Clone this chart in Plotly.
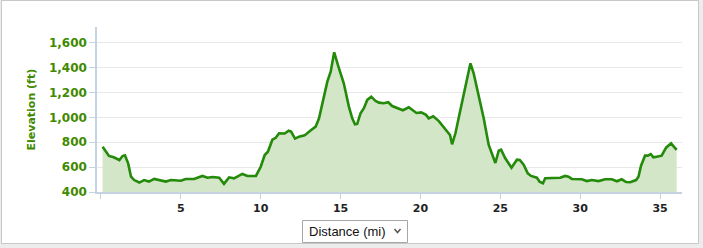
import plotly.graph_objects as go

# ---- data ----
distance_mi = [0.1, 0.3, 0.5, 0.8, 1.15, 1.35, 1.5, 1.7, 1.88, 2.08, 2.4, 2.7, 3.0, 3.33, 3.75,
               4.06, 4.38, 4.7, 5.0, 5.3, 5.83, 6.35, 6.67, 6.98, 7.4, 7.7, 8.02, 8.33, 8.85,
               9.17, 9.7, 10.0, 10.25, 10.45, 10.73, 10.94, 11.15, 11.5, 11.75, 11.9, 12.15,
               12.4, 12.75, 13.1, 13.44, 13.65, 13.85, 14.0, 14.17, 14.38, 14.6, 14.83, 15.2,
               15.52, 15.73, 15.9, 16.04, 16.25, 16.46, 16.67, 16.92, 17.19, 17.4, 17.7,
               17.98, 18.23, 18.54, 18.9, 19.27, 19.75, 20.05, 20.35, 20.52, 20.8, 21.15,
               21.46, 21.71, 21.85, 21.98, 22.19, 22.5, 22.81, 23.13, 23.33, 23.65, 23.96,
               24.27, 24.69, 24.9, 25.05, 25.31, 25.7, 26.04, 26.22, 26.46, 26.72, 26.92,
               27.29, 27.46, 27.67, 27.81, 28.23, 28.75, 29.06, 29.27, 29.48, 30.1, 30.42,
               30.73, 31.15, 31.56, 31.98, 32.3, 32.6, 32.88, 33.13, 33.5, 33.65, 33.81,
               34.06, 34.23, 34.42, 34.58, 34.79, 35.1, 35.38, 35.69, 36.04]
elevation_ft = [764, 724, 690, 679, 657, 689, 695, 630, 523, 496, 476, 496, 484, 505, 496,
                484, 496, 490, 490, 505, 505, 529, 515, 521, 515, 466, 518, 510, 545,
                529, 529, 603, 697, 724, 820, 836, 872, 870, 892, 885, 829,
                845, 855, 893, 925, 992, 1099, 1180, 1287, 1367, 1523, 1421, 1274,
                1086, 992, 944, 947, 1033, 1073, 1140, 1166, 1131, 1118, 1113,
                1121, 1091, 1073, 1057, 1081, 1035, 1040, 1020, 992, 1008, 970,
                920, 877, 858, 783, 872, 1059, 1247, 1434, 1354, 1166, 992,
                780, 633, 732, 740, 671, 596, 660, 657, 620, 550, 529,
                515, 483, 470, 510, 510, 515, 529, 523, 505, 502, 488,
                496, 488, 502, 502, 486, 502, 480, 478, 496, 523, 611,
                692, 692, 705, 679, 684, 692, 756, 791, 738]

x_ticks = [0, 5, 10, 15, 20, 25, 30, 35]
x_ticktext = ["", "5", "10", "15", "20", "25", "30", "35"]
y_ticks = [400, 600, 800, 1000, 1200, 1400, 1600]
y_title = "Elevation (ft)"
selector_label = "Distance (mi)"

# ---- layout geometry (pixels) ----
W, H = 703, 248
L, R, T, B = 97, 682, 27, 192


def px(xp):
    return (xp - L) / (R - L)


def py(yp):
    return (B - yp) / (B - T)


GREEN_TXT = "#3f8a00"
AXIS_COL = "#c4d2e2"

fig = go.Figure()
fig.add_trace(go.Scatter(
    x=distance_mi, y=elevation_ft, mode="lines",
    line=dict(color="#238a0a", width=2.6),
    fill="tozeroy", fillcolor="#d3e6c8",
    hoverinfo="skip", showlegend=False,
))

shapes = [
    # white panel with light border
    dict(type="rect", xref="paper", yref="paper", layer="below",
         x0=px(1.5), x1=px(698.5), y0=py(0.5), y1=py(243.5),
         fillcolor="white", line=dict(color="#c8c8c8", width=1)),
    # dropdown box
    dict(type="rect", xref="paper", yref="paper",
         x0=px(302.5), x1=px(407.5), y0=py(220.5), y1=py(242.5),
         fillcolor="white", line=dict(color="#a6a6a6", width=1)),
    # chevron
    dict(type="path", xref="paper", yref="paper",
         path=f"M {px(394.5)},{py(229)} L {px(397.5)},{py(232.5)} L {px(400.5)},{py(229)}",
         line=dict(color="#555555", width=1.5)),
]

annotations = [
    dict(text=f"<b>{y_title}</b>", xref="paper", yref="paper",
         x=px(31), y=py(109.5), xanchor="center", yanchor="middle", textangle=-90,
         showarrow=False, font=dict(family="DejaVu Sans", size=11, color=GREEN_TXT)),
    dict(text=selector_label, xref="paper", yref="paper",
         x=px(307), y=py(231.5), xanchor="left", yanchor="middle",
         showarrow=False, font=dict(family="Liberation Sans", size=13, color="#111111")),
]

fig.update_layout(
    width=W, height=H,
    margin=dict(l=L, r=W - R, t=T, b=H - B, pad=0),
    paper_bgcolor="#ececec", plot_bgcolor="rgba(0,0,0,0)",
    shapes=shapes, annotations=annotations,
    xaxis=dict(range=[-0.25, 36.375], tickvals=x_ticks, ticktext=x_ticktext,
               showgrid=False, zeroline=False,
               showline=True, linecolor=AXIS_COL, linewidth=1.5,
               ticks="outside", ticklen=5, tickcolor=AXIS_COL, tickwidth=1,
               tickfont=dict(family="DejaVu Sans", size=11, color="#222222", weight="bold")),
    yaxis=dict(range=[400, 1726], tickvals=y_ticks, tickformat=",",
               showgrid=True, gridcolor="#e8e8e8", gridwidth=1, zeroline=False,
               showline=True, linecolor=AXIS_COL, linewidth=1.5,
               ticks="outside", ticklen=6, tickcolor=AXIS_COL, tickwidth=1,
               tickfont=dict(family="DejaVu Sans", size=12, color=GREEN_TXT, weight="bold")),
)

fig.write_html("out.html")
